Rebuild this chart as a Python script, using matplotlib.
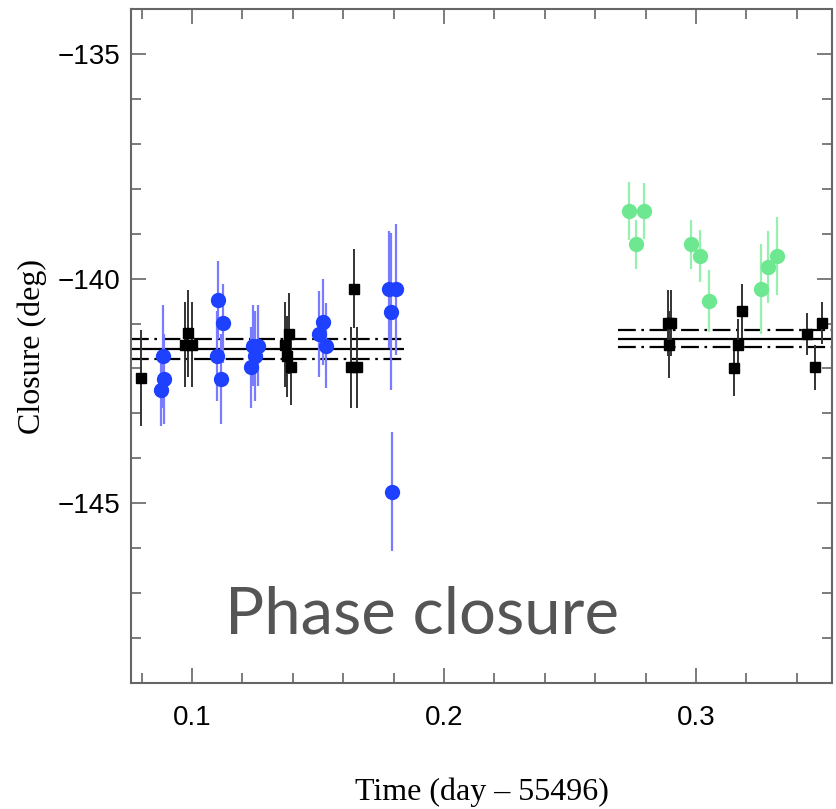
import matplotlib
matplotlib.use('Agg')
import matplotlib.pyplot as plt
from matplotlib.ticker import MultipleLocator, FixedLocator

# closure phase measurements, first night segment (blue) and second (green)
black_t1 = [0.0796, 0.0983, 0.0972, 0.1002, 0.1369, 0.1385, 0.1376, 0.1392, 0.1644, 0.1630, 0.1656]
black_v1 = [-142.21, -141.22, -141.47, -141.47, -141.47, -141.23, -141.73, -141.97, -140.23, -141.97, -141.97]
black_e1 = [1.07, 0.96, 0.95, 0.95, 0.95, 0.90, 0.90, 0.85, 0.88, 0.90, 0.90]

blue_t = [0.0884, 0.0890, 0.0876, 0.1105, 0.1124, 0.1098, 0.1115, 0.1243, 0.1263, 0.1250,
          0.1234, 0.1519, 0.1505, 0.1532, 0.1782, 0.1810, 0.1789, 0.1795]
blue_v = [-141.73, -142.23, -142.49, -140.48, -140.99, -141.73, -142.23, -141.49, -141.49, -141.73,
          -141.97, -140.97, -141.23, -141.49, -140.24, -140.24, -140.74, -144.74]
blue_e = [1.15, 1.00, 0.80, 0.87, 0.88, 1.00, 1.00, 0.90, 0.90, 1.00,
          0.90, 0.95, 0.95, 0.95, 1.30, 1.45, 1.75, 1.32]

green_t = [0.2734, 0.2792, 0.2763, 0.2980, 0.3016, 0.3052, 0.3258, 0.3287, 0.3320]
green_v = [-138.50, -138.50, -139.24, -139.24, -139.50, -140.49, -140.24, -139.74, -139.50]
green_e = [0.65, 0.62, 0.54, 0.54, 0.58, 0.69, 1.00, 0.80, 0.87]

black_t2 = [0.2888, 0.2900, 0.2893, 0.3152, 0.3165, 0.3184, 0.3442, 0.3472, 0.3501]
black_v2 = [-140.99, -140.99, -141.47, -141.99, -141.47, -140.73, -141.23, -141.97, -140.99]
black_e2 = [0.74, 0.74, 0.74, 0.63, 0.56, 0.60, 0.46, 0.50, 0.46]

# mean level and +/- 1 sigma band for each segment
seg_start = [0.0758, 0.2690]
seg_end = [0.1841, 0.3540]
seg_mean = [-141.56, -141.34]
seg_lo = [-141.78, -141.52]
seg_hi = [-141.34, -141.15]

XLIM = (0.0758, 0.354)
YLIM = (-149.0, -134.0)

fig = plt.figure(figsize=(8.37, 8.09), dpi=100)
ax = fig.add_axes([131/837, 1 - 683/809, 701/837, 674/809])

for i in range(2):
    ax.hlines(seg_mean[i], seg_start[i], seg_end[i], colors='black', lw=1.6, zorder=2)
    ax.hlines([seg_lo[i], seg_hi[i]], seg_start[i], seg_end[i], colors='black', lw=1.6,
              linestyles=[(0, (8, 2.5, 1.2, 2.5))], zorder=2)

ax.errorbar(black_t1, black_v1, yerr=black_e1, fmt='s', color='black', ms=6.5,
            ecolor='#333333', elinewidth=1.4, capsize=0, zorder=3)
ax.errorbar(black_t2, black_v2, yerr=black_e2, fmt='s', color='black', ms=6.5,
            ecolor='#333333', elinewidth=1.4, capsize=0, zorder=3)
ax.errorbar(blue_t, blue_v, yerr=blue_e, fmt='o', color='#1e40ff', ms=10, mec='#1e40ff',
            ecolor='#7a7cff', elinewidth=1.6, capsize=0, zorder=4)
ax.errorbar(green_t, green_v, yerr=green_e, fmt='o', color='#6ee890', ms=10, mec='#6ee890',
            ecolor='#96f0ae', elinewidth=1.6, capsize=0, zorder=4)

ax.set_xlim(*XLIM)
ax.set_ylim(*YLIM)
ax.xaxis.set_major_locator(FixedLocator([0.1, 0.2, 0.3]))
ax.xaxis.set_minor_locator(MultipleLocator(0.02))
ax.yaxis.set_major_locator(FixedLocator([-145, -140, -135]))
ax.yaxis.set_minor_locator(MultipleLocator(1))

for s in ax.spines.values():
    s.set_color('#666666')
    s.set_linewidth(1.5)
ax.tick_params(which='both', direction='in', top=True, right=True, color='#666666', width=1.2)
ax.tick_params(which='major', length=11)
ax.tick_params(which='minor', length=7)
ax.tick_params(axis='x', which='major', pad=16)
ax.tick_params(axis='y', which='major', pad=8)
for lab in ax.get_xticklabels() + ax.get_yticklabels():
    lab.set_fontfamily('Liberation Sans')
    lab.set_fontsize(20)

ax.set_xlabel('Time (day \u2013 55496)', family='Liberation Serif', fontsize=23)
ax.xaxis.set_label_coords(0.5, -0.14)
ax.set_ylabel('Closure (deg)', family='Liberation Serif', fontsize=23)
ax.yaxis.set_label_coords(-0.12, 0.5)

fig.text(225/837, 1 - 634/809, 'Phase closure', family='Lato', fontweight='normal',
         fontsize=47, color='#555555', ha='left', va='baseline')

fig.savefig('out.png', dpi=100)
